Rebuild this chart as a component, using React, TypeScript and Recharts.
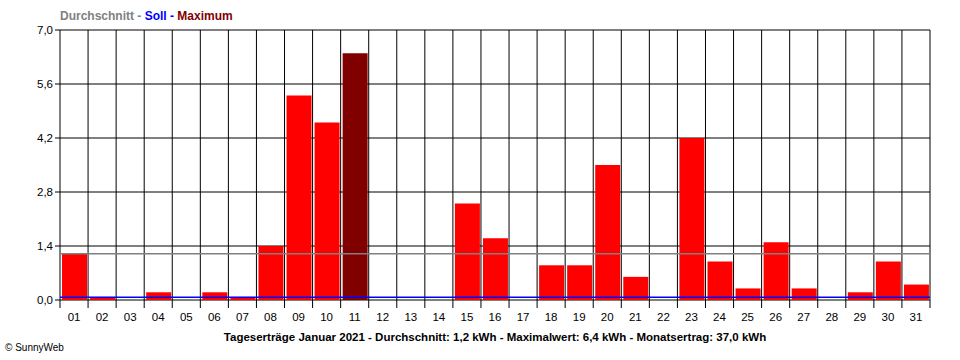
import React from "react";
import {
  Bar,
  BarChart,
  CartesianGrid,
  Cell,
  ReferenceLine,
  XAxis,
  YAxis,
} from "recharts";

const days = [
  "01", "02", "03", "04", "05", "06", "07", "08", "09", "10",
  "11", "12", "13", "14", "15", "16", "17", "18", "19", "20",
  "21", "22", "23", "24", "25", "26", "27", "28", "29", "30", "31",
];
const yields = [
  1.2, 0.08, 0, 0.2, 0, 0.2, 0.08, 1.4, 5.3, 4.6,
  6.4, 0, 0, 0, 2.5, 1.6, 0, 0.9, 0.9, 3.5,
  0.6, 0, 4.2, 1.0, 0.3, 1.5, 0.3, 0, 0.2, 1.0, 0.4,
];
const yTicks = [0, 1.4, 2.8, 4.2, 5.6, 7.0];
const boundaryTicks = days.map((_, i) => i).concat(days.length);
const AVERAGE = 1.2;
const SOLL = 0.07;
const caption =
  "Tageserträge Januar 2021 - Durchschnitt: 1,2 kWh - Maximalwert: 6,4 kWh - Monatsertrag: 37,0 kWh";

const data = days.map((day, i) => ({ day, pos: i + 0.5, value: yields[i] }));
const maxValue = Math.max(...yields);
const font = '"Liberation Sans", Arial, sans-serif';

export default function App() {
  return (
    <div
      style={{
        position: "absolute",
        left: 0,
        top: 0,
        width: 960,
        height: 360,
        background: "#fff",
        fontFamily: font,
      }}
    >
      <div
        style={{
          position: "absolute",
          left: 60,
          top: 9,
          fontSize: 12,
          fontWeight: "bold",
          whiteSpace: "nowrap",
        }}
      >
        <span style={{ color: "#808080" }}>Durchschnitt - </span>
        <span style={{ color: "#0000ff" }}>Soll - </span>
        <span style={{ color: "#800000" }}>Maximum</span>
      </div>
      <BarChart
        width={960}
        height={360}
        data={data}
        margin={{ top: 30, right: 30, left: 0, bottom: 30 }}
        barSize={25}
      >
        <CartesianGrid
          xAxisId="a"
          stroke="#000"
          strokeOpacity={1}
          horizontalValues={yTicks}
          verticalValues={boundaryTicks}
        />
        <XAxis
          xAxisId="b"
          dataKey="day"
          interval={0}
          height={22}
          tickSize={0}
          tickMargin={5}
          axisLine={false}
          tickLine={false}
          tick={{ fill: "#000", fontSize: 11.5, fontFamily: font }}
        />
        <XAxis
          xAxisId="a"
          type="number"
          dataKey="pos"
          domain={[0, days.length]}
          allowDataOverflow
          ticks={boundaryTicks}
          interval={0}
          height={8}
          tickSize={8}
          tick={() => <g />}
          axisLine={false}
          tickLine={{ stroke: "#000" }}
        />
        <YAxis
          domain={[0, 7]}
          ticks={yTicks}
          interval={0}
          width={60}
          tickSize={5}
          tickMargin={2}
          axisLine={false}
          tickLine={{ stroke: "#000" }}
          tickFormatter={(v: number) => v.toFixed(1).replace(".", ",")}
          tick={{ fill: "#000", fontSize: 11.5, fontFamily: font }}
        />
        <Bar xAxisId="b" dataKey="value" isAnimationActive={false}>
          {data.map((d, i) => (
            <Cell key={i} fill={d.value === maxValue ? "#800000" : "#ff0000"} />
          ))}
        </Bar>
        <ReferenceLine xAxisId="b" y={AVERAGE} stroke="#808080" strokeWidth={1.5} />
        <ReferenceLine xAxisId="b" y={SOLL} stroke="#0000ff" strokeWidth={1.6} />
      </BarChart>
      <div
        style={{
          position: "absolute",
          left: 60,
          width: 870,
          top: 331,
          textAlign: "center",
          fontSize: 11.5,
          fontWeight: "bold",
          whiteSpace: "nowrap",
        }}
      >
        {caption}
      </div>
      <div
        style={{
          position: "absolute",
          left: 5,
          top: 342,
          fontSize: 10,
          whiteSpace: "nowrap",
        }}
      >
        © SunnyWeb
      </div>
    </div>
  );
}
